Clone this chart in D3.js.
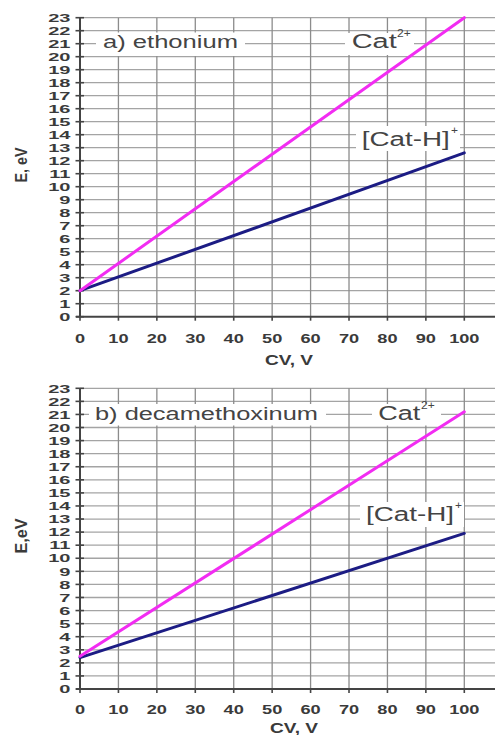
<!DOCTYPE html>
<html>
<head>
<meta charset="utf-8">
<script src="https://cdn.jsdelivr.net/npm/d3@7"></script>
<style>
  html, body { margin: 0; padding: 0; background: #fff; }
  svg { display: block; font-family: "Liberation Sans", Arial, sans-serif; }
</style>
</head>
<body>
<svg id="chart" width="495" height="735"></svg>
<script>
// ---- data ----
const cv = [0, 100];
const catA = [2.0, 23.0];
const catHA = [2.0, 12.6];
const catB = [2.5, 21.2];
const catHB = [2.4, 11.9];
const xTicks = [0, 10, 20, 30, 40, 50, 60, 70, 80, 90, 100];
const yTicks = [0, 1, 2, 3, 4, 5, 6, 7, 8, 9, 10, 11, 12, 13, 14, 15, 16, 17, 18, 19, 20, 21, 22, 23];
const panelTitles = ["a) ethonium", "b) decamethoxinum"];
const yTitles = ["E, eV", "E,eV"];
const xTitle = "CV, V";
const seriesNames = ["Cat", "[Cat-H]"];
const seriesSup = ["2+", "+"];

const svg = d3.select("#chart");
const MAGENTA = "#f22cf2";
const NAVY = "#1c1c84";
const TXT = "#3a3a3a";

function stretchText(g, x, y, str, size, sx, anchor, weight, fill) {
  return g.append("text")
    .attr("transform", `translate(${x},${y}) scale(${sx},1)`)
    .attr("text-anchor", anchor)
    .attr("font-size", size)
    .attr("font-weight", weight)
    .attr("fill", fill)
    .text(str);
}
function fitText(g, x, y, str, size, len, weight, fill) {
  return g.append("text")
    .attr("x", x).attr("y", y)
    .attr("font-size", size)
    .attr("font-weight", weight)
    .attr("fill", fill)
    .attr("textLength", len)
    .attr("lengthAdjust", "spacingAndGlyphs")
    .text(str);
}

const panels = [
  { y0: 316.7, y23: 17.7, cat: catA, catH: catHA,
    title: { x: 103, y: 47.7, len: 135, box: [96, 32.5, 149, 23.5] },
    catLbl: { x: 351.7, y: 48, len: 45, sx: 397, sy: 37, box: [345, 33, 69, 22] },
    catHLbl: { x: 361.7, y: 146, len: 88, sx: 451, sy: 134, box: [356, 126, 104, 25] },
    yTitleY: 165, xTitle: { x: 265, y: 365 }, tickY: 343 },
  { y0: 689, y23: 388.3, cat: catB, catH: catHB,
    title: { x: 95, y: 420, len: 223, box: [89, 404, 237, 21.5] },
    catLbl: { x: 378.3, y: 420, len: 42, sx: 421, sy: 409, box: [372, 404, 69, 21.5] },
    catHLbl: { x: 366, y: 521, len: 88, sx: 455, sy: 509, box: [360, 502, 104, 25] },
    yTitleY: 536, xTitle: { x: 270, y: 733 }, tickY: 714 }
];

panels.forEach((p, i) => {
  const g = svg.append("g");
  const x = d3.scaleLinear().domain([0, 110]).range([80, 80 + 110 * 3.843]);
  const y = d3.scaleLinear().domain([0, 23]).range([p.y0, p.y23]);

  // horizontal grid
  g.append("g").selectAll("line").data(yTicks.slice(1)).join("line")
    .attr("x1", x(0)).attr("x2", 495)
    .attr("y1", d => y(d)).attr("y2", d => y(d))
    .attr("stroke", "#a4a4a4").attr("stroke-width", 1.3);
  // vertical grid
  g.append("g").selectAll("line").data(xTicks.slice(1)).join("line")
    .attr("x1", d => x(d)).attr("x2", d => x(d))
    .attr("y1", y(0)).attr("y2", y(23))
    .attr("stroke", "#8c8c8c").attr("stroke-width", 1.3);

  // label boxes (white, covering grid)
  [p.title.box, p.catLbl.box, p.catHLbl.box].forEach(b => {
    g.append("rect").attr("x", b[0]).attr("y", b[1]).attr("width", b[2]).attr("height", b[3]).attr("fill", "#fff");
  });

  // axes
  g.append("line").attr("x1", x(0)).attr("x2", x(0)).attr("y1", y(0)).attr("y2", y(23))
    .attr("stroke", "#444").attr("stroke-width", 2);
  g.append("line").attr("x1", x(0) - 4).attr("x2", 495).attr("y1", y(0)).attr("y2", y(0))
    .attr("stroke", "#444").attr("stroke-width", 2);

  // y ticks
  g.append("g").selectAll("line").data(yTicks).join("line")
    .attr("x1", x(0) - 4.5).attr("x2", x(0) + 4)
    .attr("y1", d => y(d)).attr("y2", d => y(d))
    .attr("stroke", "#444").attr("stroke-width", 1.6);
  yTicks.forEach(d => stretchText(g, 70.5, y(d) + 4.2, String(d), 11.8, 1.7, "end", "bold", TXT));

  // x ticks
  g.append("g").selectAll("line").data(xTicks).join("line")
    .attr("x1", d => x(d)).attr("x2", d => x(d))
    .attr("y1", y(0)).attr("y2", y(0) + 4)
    .attr("stroke", "#444").attr("stroke-width", 1.6);
  xTicks.forEach(d => stretchText(g, x(d), p.tickY, String(d), 13, 1.4, "middle", "bold", TXT));

  // axis titles
  g.append("text")
    .attr("transform", `translate(27,${p.yTitleY}) rotate(-90)`)
    .attr("text-anchor", "middle")
    .attr("font-size", 16).attr("font-weight", "bold").attr("fill", TXT)
    .attr("textLength", 35).attr("lengthAdjust", "spacingAndGlyphs")
    .text(yTitles[i]);
  fitText(g, p.xTitle.x, p.xTitle.y, xTitle, 15, 48, "bold", TXT);

  // panel title & series labels
  fitText(g, p.title.x, p.title.y, panelTitles[i], 17.5, p.title.len, "normal", "#444");
  fitText(g, p.catLbl.x, p.catLbl.y, seriesNames[0], 20, p.catLbl.len, "normal", "#444");
  stretchText(g, p.catLbl.sx, p.catLbl.sy, seriesSup[0], 10, 1.2, "start", "normal", "#444");
  fitText(g, p.catHLbl.x, p.catHLbl.y, seriesNames[1], 20, p.catHLbl.len, "normal", "#444");
  stretchText(g, p.catHLbl.sx, p.catHLbl.sy, seriesSup[1], 10, 1.2, "start", "normal", "#444");

  // series lines
  const line = d3.line().x(d => x(d[0])).y(d => y(d[1]));
  g.append("path").datum(d3.zip(cv, p.catH)).attr("d", line)
    .attr("fill", "none").attr("stroke", NAVY).attr("stroke-width", 3).attr("stroke-linecap", "round");
  g.append("path").datum(d3.zip(cv, p.cat)).attr("d", line)
    .attr("fill", "none").attr("stroke", MAGENTA).attr("stroke-width", 3).attr("stroke-linecap", "round");
});
</script>
</body>
</html>
